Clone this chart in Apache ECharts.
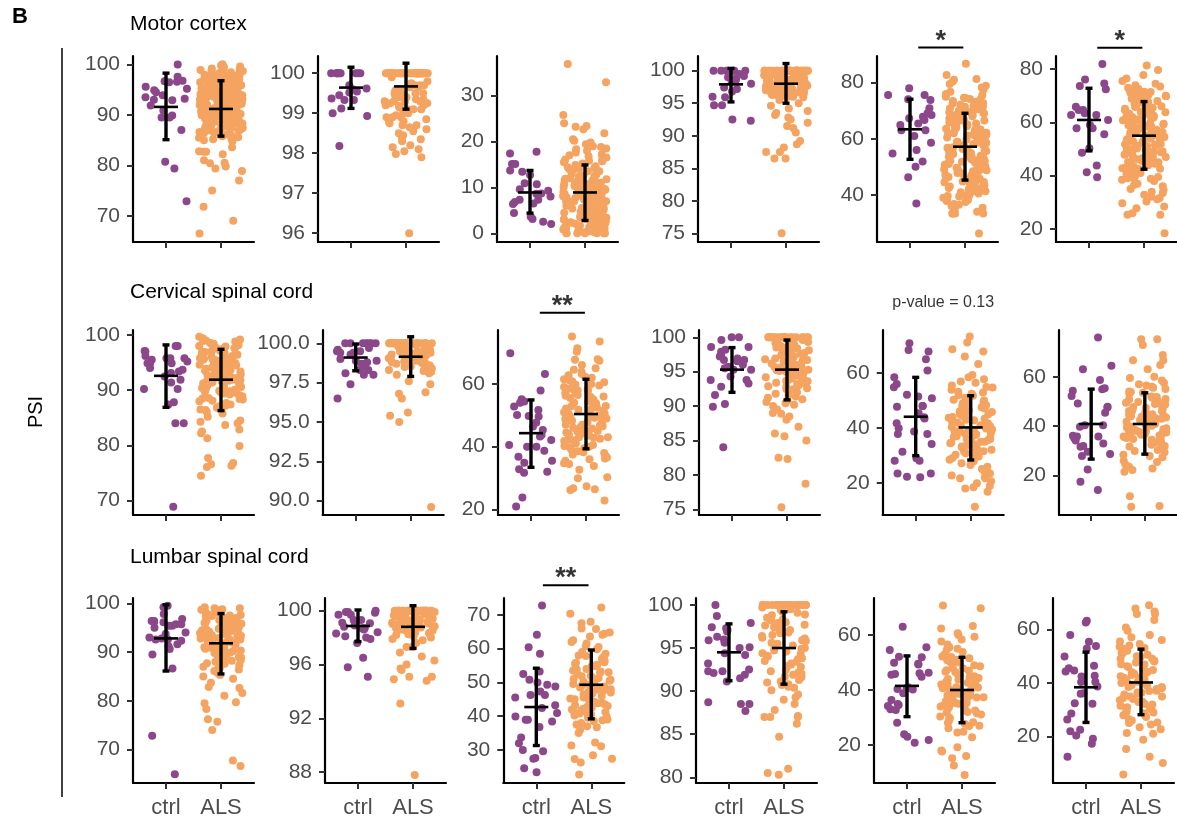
<!DOCTYPE html>
<html>
<head>
<meta charset="utf-8">
<script src="https://cdn.jsdelivr.net/npm/echarts@6/dist/echarts.min.js"></script>
<style>html,body{margin:0;padding:0;background:#fff;}#c{width:1177px;height:825px;}</style>
</head>
<body>
<div id="c"></div>
<script>
// ---------- DATA ----------
const rowTitles = ['Motor cortex', 'Cervical spinal cord', 'Lumbar spinal cord'];
const groupLabels = ['ctrl', 'ALS'];

// Motor cortex
const mc1Ctrl = [96.7,96.6,94.5,89.5,89.5,93,87,90.9,92.9,93.2,93.9,97.6,100,96.8,95.2,95.6,91.9,89.9,80.7,79.4,72.9,94.9,93.5,96.5];
const mc1Als = [100,100,99.6,99.2,98.9,98.6,98.4,98.3,98.1,97.9,97.8,97.6,97.5,97.3,97.2,97.0,96.9,96.8,96.6,96.5,96.4,96.2,96.1,96.0,95.9,95.7,95.6,95.5,95.3,95.2,95.1,95.0,94.9,94.8,94.6,94.5,94.4,94.3,94.1,94.0,93.9,93.8,93.7,93.5,93.4,93.3,93.2,93.1,93.0,92.9,92.8,92.6,92.5,92.4,92.3,92.2,92.1,92.0,91.9,91.8,91.7,91.5,91.4,91.3,91.2,91.1,91.0,90.9,90.8,90.6,90.5,90.4,90.3,90.2,90.1,90.0,89.9,89.8,89.7,89.5,89.4,89.3,89.2,89.1,89.0,88.9,88.8,88.6,88.5,88.4,88.3,88.1,88.0,87.9,87.8,87.6,87.5,87.3,87.2,87.0,86.9,86.7,86.6,86.4,86.2,86.0,85.8,85.6,85.4,85.2,85.0,98.8,97.7,97.1,96.3,95.8,95.4,94.7,94.2,93.6,92.7,92.0,91.6,90.7,89.6,88.7,98.2,97.4,96.7,95.9,94.9,93.9,92.9,91.9,90.9,89.9,99.0,99.4,98.5,97.0,96.0,94.0,93.0,92.0,91.0,90.0,88.2,87.4,86.5,85.5,84.8,83.6,82.8,82.7,82.7,82.2,81,80.5,80.4,79.8,79.4,78.9,77,75,71.8,69,66.5,98.7,98.0,97.3,96.6,95.9,95.2,94.5,93.8,93.1,92.4,91.7,91.0,90.3,89.6,88.9,88.2,87.5,86.8,86.1,97.9,96.4,94.9,93.4,91.9,90.4,88.9,87.4,95.6,92.6,89.6,99.8,98.4,96.9,95.5,94.1,92.7,91.3,89.9,88.5,87.1];
const mc2Ctrl = [100,100,100,100,100,100,100,100,100,99.52,98.93,99.62,99.33,99.0,99.12,99.33,99.54,99.37,98.18,99.6,99.45,99.7];
const mc2Als = [100,100,100,100,100,100,100,100,100,100,100,100,100,100,100,100,100,100,100,100,100,100,100,100,100,100,100,100,100,100,100,100,100,100,100,100,100,100,100,100,100,100,100,100,100,100,100,100,100,100,99.9,99.8,99.75,99.7,99.65,99.6,99.55,99.5,99.45,99.4,99.38,99.35,99.3,99.28,99.25,99.2,99.18,99.15,99.1,99.05,99.0,98.95,98.9,98.85,98.8,98.75,98.7,98.65,98.6,98.55,98.5,98.45,98.4,98.3,98.2,98.15,98.1,98.05,97.98,97.9,96.0,99.6,99.5,99.4,99.3,99.2,99.1,99.0,98.9,98.8,99.7,99.65,99.35,99.25,98.7,98.35,99.55,99.45,99.15,99.5,99.3,99.1,98.9,99.7,99.4];
const mc3Ctrl = [17.8,17.4,15.1,15.1,13.7,13.4,12.7,10.9,10.7,9.6,9.3,7.3,7.3,8.6,8.0,6.5,6.4,6.8,4.4,3.6,3.1,2.0,2.5,8.7];
const mc3Als = [36.9,32.9,25.8,24,23.4,23.2,22.7,21.8,20.5,19.8,19.4,19.0,18.5,18.3,18.0,17.6,17.2,16.8,16.5,16.1,15.8,15.5,15.2,14.9,14.6,14.3,14.0,13.8,13.5,13.2,13.0,12.8,12.5,12.2,12.0,11.8,11.5,11.3,11.0,10.8,10.6,10.4,10.2,10.0,9.8,9.6,9.4,9.2,9.0,8.8,8.6,8.4,8.2,8.0,7.8,7.6,7.4,7.2,7.0,6.8,6.6,6.4,6.2,6.0,5.8,5.6,5.4,5.2,5.0,4.8,4.6,4.4,4.2,4.0,3.8,3.6,3.4,3.2,3.0,2.8,2.6,2.4,2.2,2.0,1.8,1.6,1.4,1.2,1.0,0.8,0.6,0.4,0.2,0,0,0,0,0,0,0,0,11,10,9,8,7,6,5,4,3,2,1,12,9.5,8.5,7.5,6.5,5.5,4.5,3.5,2.5,1.5,0.5,13.5,11.5,10.5,6,5,4,3,7,8,9,10,2,1,0.3,14,16,18.8,20.2,0.7,1.3,2.1,2.9,3.7,4.3,5.1,5.9,6.7,7.3,8.1,8.9,9.7,10.3,11.1,11.9,12.6,0.9,1.7,2.3,3.1,3.9,4.7,5.3,6.1,6.9,7.7,8.3,9.1,9.9,10.7,12.3,14.4,15.7,17.0];
const mc4Ctrl = [100,100,100,100,100,100,100,99,98.8,98.6,99.2,97.4,96.8,96,95.9,94.7,94.7,92.5,92.3,98,98.3,97.2,99.5];
const mc4Als = [100,100,100,100,100,100,100,100,100,100,100,100,100,100,100,100,100,100,100,100,100,100,100,100,100,100,100,100,100,100,100,100,100,100,100,100,100,100,100,100,100,100,100,100,100,100,100,100,100,100,99.8,99.7,99.6,99.5,99.4,99.3,99.2,99.1,99,98.9,98.8,98.7,98.6,98.5,98.4,98.3,98.2,98.1,98,97.9,97.8,97.7,97.6,97.5,97.4,97.3,97.2,97.1,97,96.9,96.8,96.7,96.6,96.5,96.4,96.3,96.2,96.1,96,95.9,99.85,99.65,99.45,99.25,99.05,98.85,98.65,98.45,98.25,98.05,97.85,97.65,97.45,97.25,97.05,96.85,96.65,96.45,96.25,99.9,99.55,99.15,98.75,98.35,97.95,97.55,97.15,96.75,99.3,98.9,98.4,97.8,97.3,96.9,96.3,99.6,99.1,98.6,98.1,97.6,97.0,96.5,96.0,95.5,95,94.6,94.2,93.8,93.5,93.2,92.8,92.5,92,91.5,91.2,90.5,89.2,88.7,88.2,87.5,87.5,86.5,86.5,75];
const mc5Ctrl = [78,75.6,73.8,70.9,63.1,65.5,66.7,67.3,68.5,67.9,64.9,74.1,75.6,69.1,61,58.6,56,54.8,51.9,50.1,46.3,37,63.1];
const mc5Als = [86.7,82.7,81.3,81,80.4,79.5,78.3,77.5,76.8,76,75.5,75,74.5,74,73.5,73,72.5,72,71.5,71,70.5,70,69.5,69,68.5,68,67.5,67,66.5,66,65.5,65,64.5,64,63.5,63,62.5,62,61.5,61,60.5,60,59.5,59,58.5,58,57.5,57,56.5,56,55.5,55,54.5,54,53.5,53,52.5,52,51.5,51,50.5,50,49.5,49,48.5,48,47.5,47,46.5,46,45.5,45,44.5,44,43.5,43,42.5,42,41.5,41,40.5,40,39.5,39,38.4,38.2,37.5,36.5,35.5,34,33.4,33.4,33.4,33.4,26.3,74.2,72.8,71.2,69.8,68.2,66.8,65.2,63.8,62.2,60.8,59.2,57.8,56.2,54.8,53.2,51.8,50.2,48.8,47.2,45.8,44.2,73.2,70.8,67.2,64.2,61.2,58.2,55.2,52.2,49.2,46.2,43.2,65.8,62.8,59.8,56.8,53.8,50.8,47.8,44.8,57.3,55.7,54.1,52.6,49.7,48.3,60.3,58.9,63.3,66.3,69.3,71.7,36.8,35,37.9,39.8,41.3,42.7,74.6,72.1,69.6,67.1,64.6,62.1,59.6,57.1,54.6,52.1,49.6,47.1,44.6,42.1,39.6,71.4,66.4,61.4,56.4,51.4,46.4,41.4,68.6,63.6,58.6,53.6,48.6,43.6,78.9,36.1];
const mc6Ctrl = [81.9,76.1,72.4,74.6,73.6,65.9,63.4,57.8,57.8,59,64.6,62.8,64.6,62.8,55.5,50.3,48.6,43.8,39.4,41.3,60.9];
const mc6Als = [81.3,79.6,77.8,76.5,75.5,74.5,73.5,73,72.5,72,71.5,71,70.5,70,69.5,69,68.5,68,67.5,67,66.5,66,65.5,65,64.5,64,63.5,63,62.5,62,61.5,61,60.5,60,59.5,59,58.5,58,57.5,57,56.5,56,55.5,55,54.5,54,53.5,53,52.5,52,51.5,51,50.5,50,49.5,49,48.5,48,47.5,47,46.5,46,45.5,45,44.5,44,43.5,43,42.5,42,41.5,41,40.5,40,39.5,39,38.5,38,37,36,35,34,33.5,32.8,32.1,31.1,30.3,29.6,28.4,27.8,25.9,25.3,25.3,18.4,71.8,69.8,67.8,65.8,63.8,61.8,59.8,57.8,55.8,53.8,51.8,49.8,47.8,45.8,43.8,70.2,66.2,62.2,58.2,54.2,50.2,46.2,42.8,68.8,64.8,60.8,56.8,52.8,48.8,44.8,57.2,55.2,53.2,51.2,49.2,47.2,59.2,61.2,63.2,38.8,36.5,40.8,73.9,71.4,68.9,66.4,63.9,61.4,58.9,56.4,53.9,51.4,48.9,46.4,43.9,41.4,38.9,72.6,67.6,62.6,57.6,52.6,47.6,42.6,70.1,65.1,60.1,55.1,50.1,45.1,34.6,31.6];

// Cervical spinal cord
const cs1Ctrl = [98,98,97.1,97,94.9,93.7,94,94.9,95.8,95.2,95.5,95.8,94.9,93.1,91.9,91.4,90.2,90.2,87.4,87.8,84,84,68.9,93.4,95.8,96.2,92.5];
const cs1Als = [99.7,99.2,98.8,98.4,98,97.6,97.3,97,96.7,96.4,96.1,95.8,95.5,95.2,94.9,94.6,94.3,94,93.7,93.4,93.1,92.8,92.5,92.2,91.9,91.6,91.3,91,90.7,90.4,90.1,89.8,89.5,89.2,88.9,88.8,88.6,88.3,88,87.7,87.4,87.1,86.8,86.4,86.1,85.8,85.2,84.5,84.3,84,83.7,82.9,82.5,82.2,81.3,79.9,77.7,76.8,76.6,76.3,76.1,74.5,99,98.5,97.8,97.2,96.6,96,95.4,94.8,94.2,93.6,93,92.4,91.8,91.2,90.6,90,89.4,88.5,98.2,97.5,96.8,96.2,95.6,95,94.5,93.9,93.3,92.7,92.1,91.5,90.9,90.3,89.7,99.4,98.6,97.9,97.1,96.5,95.9,95.3,94.7,94.1,93.5,92.9,92.3,91.7,91.1,90.5,89.9,88.1,87.2,86.5,98.9,97.4,95.7,94.4,93.2,92,90.8,89.6,96.9,95.1,93.8,91.4,89.1,97.7,88.4];
const cs2Ctrl = [100,100,100,100,100,100,100,99.7,99.5,99.4,99.6,99.5,99.3,99.4,99,98.9,98.8,98.9,98.7,98.3,98.1,98.3,98,97.4,96.5,98,98.5];
const cs2Als = [100,100,100,100,100,100,100,100,100,100,100,100,100,100,100,100,100,100,100,100,100,100,100,100,100,100,100,100,100,100,99.9,99.85,99.8,99.75,99.7,99.65,99.6,99.55,99.5,99.45,99.4,99.35,99.3,99.25,99.2,99.15,99.1,99.05,99,98.95,98.9,98.85,98.8,98.7,98.6,98.5,98.4,98.3,98.2,98.1,98,97.6,97.4,96.9,96.8,96.5,95.6,95.4,95,89.6,99.9,99.8,99.7,99.6,99.5,99.4,99.3,99.2,99.1,99,98.9,98.8,98.6,98.4,99.85,99.65,99.45,99.25,99.05,98.75,98.55,98.25];
const cs3Ctrl = [57.9,55.1,49.8,52.8,54.4,54,50.1,51.7,47.7,46.4,45.3,43.7,43.2,42.1,40.5,40,40,38.7,36.8,35.5,34.9,32,32.8,31.7,63.2,69.8,23.8,20.9,49.6];
const cs3Als = [75.1,73.5,71.4,70.3,67.9,67.7,67.4,64.5,63.9,63.2,62.3,61.5,61,60.5,60,59.5,59,58.5,58,57.5,57,56.5,56,55.5,55,54.5,54,53.5,53,52.5,52,51.5,51,50.5,50,49.5,49,48.5,48,47.5,47,46.5,46,45.5,45,44.5,44,43.5,43,42.5,42,41.5,41,40.5,40,39.5,39,38.5,38,37.5,37,36.5,36,35.5,34.7,34.5,33.8,32.6,30.2,29.9,27.4,26.7,26.4,26.2,22.8,62.8,59.8,57.8,55.8,53.8,51.8,49.8,47.8,45.8,43.8,41.8,39.8,60.8,58.2,56.2,54.2,52.2,50.2,48.2,46.2,44.2,42.2,40.2,53,51,49,47,45,43,57,55,50.8,48.8,46.8,44.8,65,66,62,38.2,36.2,42.8,52.8,49.2];
const cs4Ctrl = [100,100,99.6,98.6,97.9,98.6,98.2,97.4,96.9,96.5,96,95.7,95.5,95.7,95.3,95.3,94.3,93.8,93.8,93.3,92.8,91.6,90.3,89.9,84,96.7,97.2,96.7];
const cs4Als = [100,100,100,100,100,100,100,100,100,100,100,100,100,100,100,100,100,100,100,100,99.8,99.6,99.4,99.2,99,98.8,98.6,98.4,98.2,98,97.8,97.6,97.4,97.2,97,96.8,96.6,96.4,96.2,96,95.8,95.6,95.4,95.2,95,94.8,94.6,94.4,94.2,94,93.8,93.6,93.4,93.2,93,92.8,92.6,92.4,92.2,92,91.8,91.6,91.4,91.2,91,90.8,90.6,90.4,90.2,90,99.7,99.3,98.9,98.5,98.1,97.7,97.3,96.9,96.5,96.1,95.7,95.3,94.9,94.5,94.1,93.7,93.3,92.9,92.5,99.5,98.7,97.9,97.1,96.3,95.5,94.7,93.9,98.3,96.7,95.1,89.5,89,88.9,88.5,88,87,86,85.6,85,82.5,82.3,78.7,75.3];
const cs5Ctrl = [71,68.5,67.9,65.1,61,56.1,58.5,54.9,51.5,52.1,50.9,48,48,47.8,45.4,43.9,41.7,39.9,38.7,37.8,37.8,34.1,31.3,28,28.9,28,23.4,23.4,22.2,22,43.5];
const cs5Als = [73.4,71.2,68.8,67.9,66.1,63.4,59.4,58.5,57.8,56.5,55.5,54.8,54,53.2,52.5,51.8,51,50.3,49.6,49,48.3,47.6,47,46.4,45.8,45.2,44.6,44,43.4,42.8,42.2,41.6,41,40.4,39.8,39.2,38.6,38,37.4,36.8,36.2,35.6,35,34.4,33.8,33.2,32.6,32,31.4,30.8,30.2,29.6,29,28.4,27.8,27.1,26.5,25.8,25,24.2,23.4,22.6,21.6,21.6,22,20.5,19.8,18.8,18.3,17.9,16.7,11.2,50,48,46,44,42,40,38,36,34,32,30,45,43,41,39,37,35,33,47.2,45,41.2,39.4,37.7,36,34.7,42.5,40.7,38.9,43.7,55,53,49.3,31.5,28.8,52,57,35.5,33.5,44.3];
const cs6Ctrl = [75.9,63,64.4,58.7,52.2,54.3,54.9,55.3,49.2,47.9,47.6,45.4,40.4,40.4,39.8,33,32,35.1,35.8,34.2,36.1,31.7,29.7,28,28.8,22.5,17.5,14.2,35.8];
const cs6Als = [75.2,75.2,72.8,68.8,66.7,66.7,64.7,63,60,58.5,57.5,57,56,55.5,55,54,53.5,53,52,51.5,51,50,49.5,49,48,47.5,47,46.5,46,45.5,45,44.5,44,43.5,43,42.5,42,41.5,41,40.5,40,39.5,39,38.5,38,37.5,37,36.5,36,35.5,35,34.5,34,33.5,33,32.5,32,31,30.4,29.5,28.5,27.5,26,25.5,24.5,23.6,22.9,22.3,21.6,11.7,7.7,7.4,44.8,42.8,40.8,38.8,36.8,34.8,43.8,41.8,39.8,37.8,35.8,45.8,47.8,49.8,51.8,53.8,33.8,31.8,42.2,40.2,38.2,36.2,44.2,46.2,41.2,39.2,50.8,48.8,37.2,35.2,43.2,59.5,56.5,30,28];

// Lumbar spinal cord
const ls1Ctrl = [99.5,99.2,97.8,96.1,96.1,96.4,95.4,95,95.4,95.7,95.7,96.8,96.4,94,93.7,92.8,92.6,93,92.6,91.6,90.6,89.5,91.2,92.3,86.6,72.8,64.9];
const ls1Als = [99.2,99,98.8,98.5,98.2,98,97.8,97.5,97.2,97,96.8,96.5,96.2,96,95.8,95.5,95.2,95,94.8,94.5,94.2,94,93.8,93.5,93.2,93,92.8,92.5,92.2,92,91.8,91.5,91.2,91,90.8,90.5,90.2,90,89.8,89.5,89.2,89,88.8,88.5,88.2,88,87.7,87.3,87,86.6,86.4,86.1,85.7,85.3,85,84.5,83.7,82.8,82.6,81.6,81,79.7,79.5,78.3,76.2,75.7,74,67.7,66.6,98.7,97.7,96.7,95.7,94.7,93.7,92.7,91.7,90.7,89.7,88.7,98.3,96.3,94.3,92.3,90.3,88.3,97.3,95.3,93.3,91.3,89.3,99,97,95,93,91,96.6,94.6,92.6,93.6,95.6,97.6,87.6,86.8,98.6,97.4,96.1,94.9,93.9,92.9,91.9,90.9,89.9,88.9,95.9,93.4,91.4,96.9,98.1];
const ls2Ctrl = [99.85,99.7,99.9,99.9,100,99.7,99.3,99.3,99.1,99.06,98.9,98.7,98.4,98.6,98.7,98.3,98.1,97.9,98,97.6,96.5,95.8,95.1,98.8];
const ls2Als = [100,100,100,100,100,100,100,100,100,100,100,100,100,100,100,100,100,100,100,100,100,100,100,100,100,99.9,99.8,99.7,99.6,99.5,99.4,99.3,99.2,99.1,99,98.9,98.8,98.7,98.6,98.5,98.4,98.3,98.2,98.1,98,97.9,97.8,97.6,97.3,97.3,97.3,96.9,96.6,96.3,96,95.7,95.6,95.1,95.1,94.9,94.8,93.1,87.8,99.95,99.85,99.75,99.65,99.55,99.45,99.35,99.25,99.15,99.05,98.95,98.85,98.75,98.65,98.55,98.45,98.35,98.25,99.9,99.7,99.5,99.3,99.1,98.9,98.7,98.5,99.8,99.6,99.4,99.2,99.0];
const ls3Ctrl = [72.8,64.1,60.4,58.5,53.2,52.5,49.3,50,50.8,48.8,46.3,47.3,46.3,45.5,43.2,42.4,40.9,38.9,38.4,38.9,36.8,33.7,32,29.6,27.6,27.4,30,24.6,23.4,39.9];
const ls3Als = [72.2,70.3,68,67.5,65.8,64.8,64.4,64.1,63.6,62.5,61.5,60.5,59.8,59,58.5,58,57.5,57,56.5,56,55.5,55,54.7,54,53.5,53,52.5,52,51.8,51,50.5,50,49.5,49,48.5,48,47.5,47,46.5,46,45.5,45,44.5,44,43.5,43,42.5,42,41.5,41,40.5,40,39.5,39,38.5,38,37.5,36.7,36,35,32.2,31.3,31.1,28.4,27.4,27.3,26.3,22.7,55.8,53.8,51.3,49.8,47.8,45.8,43.8,41.8,39.8,54.8,52.8,50.8,48.8,46.8,44.8,42.8,40.8,38.8,53.2,51.2,49.2,47.2,45.2,43.2,41.2,57.8,55.2,50.2,48.2,46.2,44.2,60.8,62,66,37,42.2,40.2];
const ls4Ctrl = [100,98.7,97.9,97.4,97.3,96.9,97.1,96.3,96,95.9,95.6,95.1,95,94.4,94.2,93.2,92.3,92.1,92.3,91.9,91.1,91.5,88.5,88.7,88.5,87.7,92.5];
const ls4Als = [100,100,100,100,100,100,100,100,100,100,100,100,100,100,100,100,100,100,100,100,100,100,99.7,99.4,99.1,98.8,98.5,98.2,97.9,97.6,97.3,97,96.7,96.4,96.1,95.8,95.5,95.2,94.9,94.6,94.3,94,93.7,93.4,93.1,92.8,92.5,92.2,91.9,91.6,91.3,91,90.7,90.4,90.1,99.5,98.9,98.3,97.7,97.1,96.5,95.9,95.3,94.7,94.1,93.5,92.9,92.3,91.7,91.1,90.5,99.2,98,96.8,95.6,94.4,93.2,92,90.8,97.4,96.2,95,93.8,89.6,89.3,89,88.5,87.8,87.1,87,87,87,86.2,84.7,81,80.5,80.3];
const ls5Ctrl = [63,55.5,54.5,51.9,49.9,49.3,46.1,45.5,45.8,52.1,49.5,46.3,44.8,41,40.6,40.4,38.8,36.4,33,34.5,34.9,32.7,34.2,28.1,23.9,23,20.8,21.8,40.2];
const ls5Als = [70.7,69.7,63.3,62.4,60.6,60,59.4,58.4,57.6,56.5,55.5,54.5,53.8,53,52.2,51.5,50.8,50,49.3,48.6,47.9,47.2,46.5,45.8,45.1,44.4,43.7,43,42.3,41.6,40.9,40.2,39.5,38.8,38.1,37.4,36.7,36,35.3,34.6,33.9,33.2,32.5,31.8,31.1,30.4,29.7,29,28.3,27.6,26.9,26.1,24.8,24.5,22.8,19.2,18,17.6,16,15.2,12.5,9.1,44,42,40,38,36,34,32,43,41,39,37,35,33,45,47,49,51,42.6,40.6,38.6,36.6,34.6,44.6,46.6,41.3,39.3,37.3,35.3,48,50,52,55,30,28,31.5,27];
const ls6Ctrl = [63.2,62.5,57.9,55.4,53.8,52.9,49.9,44.7,45.5,42.7,46.4,44.3,40.4,40.4,38.7,36.2,36,32.5,32.3,28.6,26.4,22,22.6,19.2,17.4,20.4,12.5,42.4];
const ls6Als = [69,67.8,66.6,65.7,65.7,63.5,60.7,59.5,57.9,56,54.5,53.5,52.8,52,51.2,50.5,49.8,49,48.3,47.6,46.9,46.2,45.5,44.8,44.1,43.4,42.7,42,41.3,40.6,39.9,39.2,38.5,37.8,37.1,36.4,35.7,35,34.3,33.6,32.9,32.2,31.5,30.8,30.1,29.4,28.7,28,27.3,26.6,25.3,25.1,24.5,23.5,22.8,21.4,21.1,18.9,15.4,12.5,10.2,5.9,45,43,41,39,37,35,33,44,42,40,38,36,34,46,48,50,52,54,32,30,28,26,47,49,51,53,40.5,38.5,36.5,42.5,44.5,55.5,57,31,29];

// mean, mean - sd, mean + sd  (ctrl then ALS), per panel, row-major
const ctrlStats = [
  [91.6,85.1,98.3],[99.64,99.12,100.15],[8.9,4.4,13.7],[97.9,95.2,100.35],[63.4,52.7,74.1],[60.9,49.3,72.8],
  [92.6,86.9,98.2],[99.1,98.26,99.96],[44.3,33.4,54.9],[95.3,92.0,98.5],[44.1,29.9,58.5],[40.9,26.7,55.0],
  [92.8,86.1,99.7],[98.86,97.7,100.05],[42.7,31.3,54.2],[94.5,91.2,97.8],[41.5,30.3,52.4],[38.4,25.3,51.5]];
const alsStats = [
  [91.2,85.8,96.8],[99.67,99.1,100.25],[8.9,2.8,14.9],[98.0,95.0,101.1],[57.2,45.3,69.1],[55.0,42.4,67.8],
  [91.9,86.3,97.4],[99.15,97.9,100.42],[50.4,39.3,61.5],[95.3,90.9,99.6],[40.2,28.3,51.8],[40.9,28.7,53.5],
  [91.8,85.5,97.9],[98.8,97.2,100.37],[49.3,39.2,59.6],[95.0,90.8,99.2],[40.0,28.1,51.9],[40.2,28.2,52.6]];

// y-axis limits and tick labels per panel
const yLimits = [
  [64.8,101.7],[95.78,100.43],[-1.9,38.65],[73.66,102.26],[23.26,89.5],[15.1,84.9],
  [67.4,100.9],[89.09,100.85],[18.2,77.2],[74.17,101.06],[8.2,75.8],[4.1,78.9],
  [63.1,101.1],[87.2,100.94],[20.2,75.0],[79.34,100.8],[6.18,73.45],[2.74,71.67]];
const yTicks = [
  [70,80,90,100],[96,97,98,99,100],[0,10,20,30],[75,80,85,90,95,100],[40,60,80],[20,40,60,80],
  [70,80,90,100],[90,92.5,95,97.5,100],[20,40,60],[75,80,85,90,95,100],[20,40,60],[20,40,60],
  [70,80,90,100],[88,92,96,100],[30,40,50,60,70],[80,85,90,95,100],[20,40,60],[20,40,60]];
const yTickDecimals = [0,0,0,0,0,0, 0,1,0,0,0,0, 0,0,0,0,0,0];

// significance annotations: panel, label, height (data units), from/to group positions
const sigPanels = [4, 5, 8, 14];
const sigLabels = ['*', '*', '**', '**'];
const sigHeights = [92.5, 88.0, 82.7, 78.8];
const sigFrom = [1.15, 1.15, 1.16, 1.12];
const sigTo = [1.97, 1.97, 1.98, 1.95];
const pvalPanel = 10, pvalText = 'p-value = 0.13', pvalHeight = 85.8;

const ctrlData = [mc1Ctrl,mc2Ctrl,mc3Ctrl,mc4Ctrl,mc5Ctrl,mc6Ctrl,cs1Ctrl,cs2Ctrl,cs3Ctrl,cs4Ctrl,cs5Ctrl,cs6Ctrl,ls1Ctrl,ls2Ctrl,ls3Ctrl,ls4Ctrl,ls5Ctrl,ls6Ctrl];
const alsData = [mc1Als,mc2Als,mc3Als,mc4Als,mc5Als,mc6Als,cs1Als,cs2Als,cs3Als,cs4Als,cs5Als,cs6Als,ls1Als,ls2Als,ls3Als,ls4Als,ls5Als,ls6Als];

// ---------- LAYOUT ----------
const gridLefts = [[133,318,497,698,877,1056],[133,322.7,498,699,882.7,1059],[133,325,503.3,696,874,1053]];
const gridTops = [56,330,598];
const gridHeights = [186,185,185];
const plotW = 121;
const FONT = '"Liberation Sans", Arial, Helvetica, sans-serif';
const CTRL_COLOR = '#8B4789', ALS_COLOR = '#F4A460';

// deterministic jitter (horizontal spread only, like geom_jitter width 0.4)
function jitter(i, seed) {
  let h = Math.imul(i + 1, 0x9E3779B1) ^ Math.imul(seed + 7, 0x85EBCA77);
  h ^= h >>> 15; h = Math.imul(h, 0x2C1B3C6D);
  h ^= h >>> 12; h = Math.imul(h, 0x297A2D39);
  h ^= h >>> 15;
  return ((h >>> 0) / 4294967296 - 0.5) * 0.8;
}

const grids = [], xAxes = [], yAxes = [], series = [];
for (let p = 0; p < 18; p++) {
  const r = Math.floor(p / 6), c = p % 6;
  grids.push({left: gridLefts[r][c], top: gridTops[r], width: plotW, height: gridHeights[r], containLabel: false});
  xAxes.push({
    type: 'value', gridIndex: p, min: 0.4, max: 2.6,
    axisLine: {show: true, onZero: false, lineStyle: {color: '#000', width: 2.2}},
    axisTick: {show: true, length: 6, lineStyle: {color: '#333', width: 2}, customValues: [1, 2]},
    axisLabel: {show: r === 2, customValues: [1, 2], margin: 14, color: '#4D4D4D', fontSize: 22, fontFamily: FONT,
      formatter: v => groupLabels[Math.round(v) - 1]},
    splitLine: {show: false}
  });
  const dec = yTickDecimals[p];
  yAxes.push({
    type: 'value', gridIndex: p, min: yLimits[p][0], max: yLimits[p][1],
    axisLine: {show: true, onZero: false, lineStyle: {color: '#000', width: 2.2}},
    axisTick: {show: true, length: 6, lineStyle: {color: '#333', width: 2}, customValues: yTicks[p]},
    axisLabel: {show: true, customValues: yTicks[p], margin: 13, color: '#4D4D4D', fontSize: 21, fontFamily: FONT,
      formatter: v => Number(v).toFixed(dec)},
    splitLine: {show: false}
  });
  series.push({
    type: 'scatter', xAxisIndex: p, yAxisIndex: p, symbolSize: 8, silent: true,
    itemStyle: {color: CTRL_COLOR, opacity: 1},
    data: ctrlData[p].map((v, i) => [1 + jitter(i, p * 2), v]), z: 2
  });
  series.push({
    type: 'scatter', xAxisIndex: p, yAxisIndex: p, symbolSize: 8, silent: true,
    itemStyle: {color: ALS_COLOR, opacity: 1},
    data: alsData[p].map((v, i) => [2 + jitter(i, p * 2 + 1), v]), z: 2
  });
  series.push({
    type: 'custom', xAxisIndex: p, yAxisIndex: p, silent: true, z: 5,
    data: [[1].concat(ctrlStats[p]), [2].concat(alsStats[p])],
    renderItem: function (params, api) {
      const x = api.value(0);
      const pm = api.coord([x, api.value(1)]);
      const plo = api.coord([x, api.value(2)]);
      const phi = api.coord([x, api.value(3)]);
      const st = {stroke: '#000', lineWidth: 3.4};
      return {type: 'group', children: [
        {type: 'line', shape: {x1: plo[0], y1: plo[1], x2: phi[0], y2: phi[1]}, style: st},
        {type: 'line', shape: {x1: plo[0] - 3.5, y1: plo[1], x2: plo[0] + 3.5, y2: plo[1]}, style: st},
        {type: 'line', shape: {x1: phi[0] - 3.5, y1: phi[1], x2: phi[0] + 3.5, y2: phi[1]}, style: st},
        {type: 'line', shape: {x1: pm[0] - 12, y1: pm[1], x2: pm[0] + 12, y2: pm[1]}, style: {stroke: '#000', lineWidth: 2.6}}
      ]};
    }
  });
}
// significance bars
sigPanels.forEach((p, k) => {
  series.push({
    type: 'line', xAxisIndex: p, yAxisIndex: p, clip: false, silent: true, symbol: 'none',
    lineStyle: {color: '#000', width: 2},
    data: [[sigFrom[k], sigHeights[k]], [sigTo[k], sigHeights[k]]]
  });
  series.push({
    type: 'scatter', xAxisIndex: p, yAxisIndex: p, clip: false, silent: true, symbolSize: 0,
    data: [[(sigFrom[k] + sigTo[k]) / 2, sigHeights[k]]],
    label: {show: true, position: 'top', distance: -7, formatter: sigLabels[k], color: '#000', fontSize: 27, fontWeight: 'bold', fontFamily: FONT}
  });
});
series.push({
  type: 'scatter', xAxisIndex: pvalPanel, yAxisIndex: pvalPanel, clip: false, silent: true, symbolSize: 0,
  data: [[1.5, pvalHeight]],
  label: {show: true, position: 'inside', formatter: pvalText, color: '#000', fontSize: 16, fontFamily: FONT}
});

const titleY = [24.3, 292.6, 557.6];
const graphics = [
  {type: 'text', left: 12, top: 6, style: {text: 'B', font: 'bold 22px ' + FONT, fill: '#000'}},
  {type: 'line', shape: {x1: 62, y1: 48, x2: 62, y2: 797}, style: {stroke: '#000', lineWidth: 1.5}},
  {type: 'text', x: 36, y: 412, rotation: Math.PI / 2,
   style: {text: 'PSI', font: '20px ' + FONT, fill: '#000', textAlign: 'center', textVerticalAlign: 'middle'}}
];
rowTitles.forEach((t, r) => graphics.push({type: 'text', x: 130, y: titleY[r],
  style: {text: t, font: '21px ' + FONT, fill: '#000', textAlign: 'left', textVerticalAlign: 'middle'}}));

const chart = echarts.init(document.getElementById('c'), null, {renderer: 'canvas'});
chart.setOption({
  animation: false,
  backgroundColor: '#fff',
  grid: grids, xAxis: xAxes, yAxis: yAxes, series: series,
  graphic: graphics
});
</script>
</body>
</html>
